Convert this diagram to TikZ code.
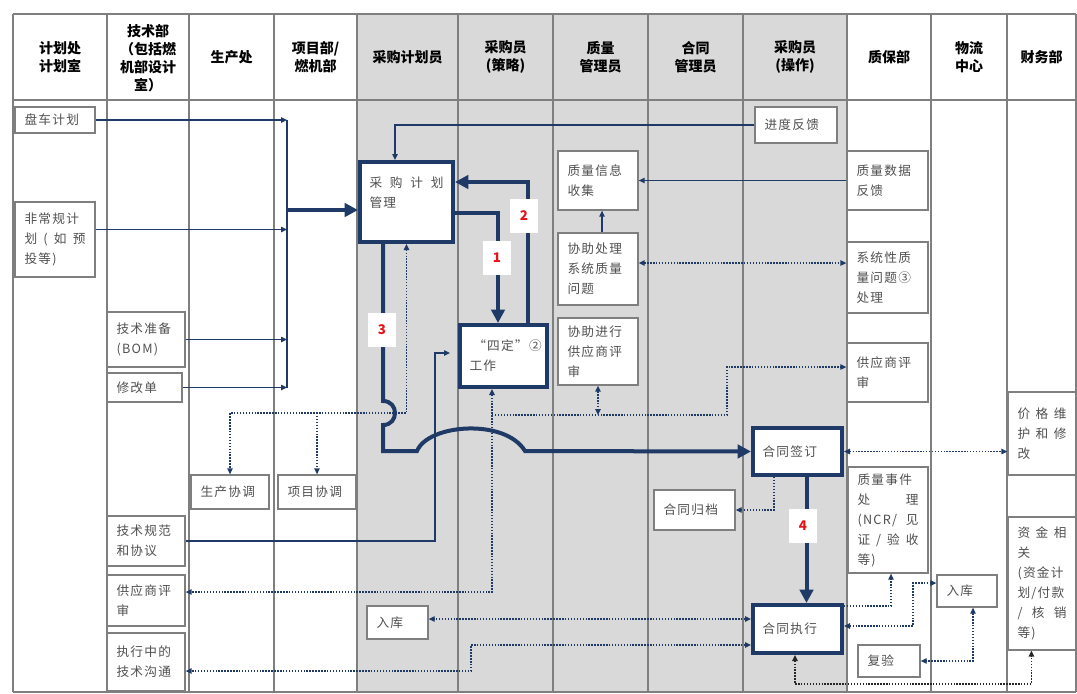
\documentclass[tikz,border=0pt]{standalone}
\usepackage{fontspec}
\setmainfont{Noto Sans CJK SC}
\newfontfamily\bxf[LetterSpace=10]{Noto Sans CJK SC}
\usetikzlibrary{arrows.meta,calc}
\definecolor{navy}{HTML}{1F3A66}
\definecolor{colgrey}{HTML}{D9D9D9}
\definecolor{lgrey}{HTML}{7F7F7F}
\definecolor{txtgrey}{HTML}{505050}
\definecolor{numred}{HTML}{E5141B}
\newcommand\sprd[1]{\makebox[\linewidth][s]{#1}}
\newcommand\mybox[7][]{%
 \pgfmathsetmacro\bxw{(#5-#3)*0.75}%
 \pgfmathsetmacro\bxh{(#6-#4)*0.75}%
 \pgfmathsetmacro\bxt{(#5-#3-19)*0.75}%
 \node[bxs,#1,minimum width=\bxw pt,minimum height=\bxh pt,text width=\bxt pt] (#2) at ({(#3+#5)/2},{(#4+#6)/2}) {#7};}
\tikzset{
 bxs/.style={draw=lgrey, line width=0.9pt, fill=white, inner xsep=6.75pt, inner ysep=2pt, align=left, font=\bxf\fontsize{9.5}{15}\selectfont, text=txtgrey},
 boxthick/.style={draw=navy, line width=3pt},
 ln/.style={draw=navy, line width=1pt},
 lnar/.style={ln, -{Triangle[length=4.5pt,width=4pt]}},
 thk/.style={draw=navy, line width=3pt, -{Triangle[length=10pt,width=10pt]}},
 dotl/.style={draw=navy, line width=1.1pt, dash pattern=on 1.1pt off 1.1pt},
 dar/.style={dotl, {Triangle[length=4.5pt,width=4pt]}-{Triangle[length=4.5pt,width=4pt]}},
 sar/.style={dotl, -{Triangle[length=4.5pt,width=4pt]}},
 hd/.style={font=\bfseries\fontsize{10.5}{13.5}\selectfont, align=center, inner sep=0pt},
 num/.style={fill=white, text=numred, font=\bfseries\fontsize{10}{12}\selectfont, minimum width=21pt, minimum height=25pt, inner sep=0pt},
 colline/.style={draw=lgrey, line width=1.2pt},
}
\begin{document}
\begin{tikzpicture}[x=0.75pt,y=-0.75pt]
\useasboundingbox (0,0) rectangle (1077,693);
\fill[colgrey] (357,14) rectangle (847,692);
\foreach \x in {13,107,189,274,357,458,553,648,743,847,931,1007,1076}
  \draw[colline] (\x,14) -- (\x,692);
\draw[colline] (13,14) -- (1076,14);
\draw[colline] (13,100) -- (1076,100);
\draw[colline] (13,692) -- (1076,692);
% headers
\node[hd] (h1) at (60,57) {计划处\\计划室};
\node[hd] (h2) at (148,58) {技术部\\（包括燃\\机部设计\\室）};
\node[hd] (h3) at (231.5,57) {生产处};
\node[hd] (h4) at (315.5,57) {项目部/\\燃机部};
\node[hd] (h5) at (407.5,57) {采购计划员};
\node[hd] (h6) at (505.5,57) {采购员\\(策略)};
\node[hd] (h7) at (600.5,57) {质量\\管理员};
\node[hd] (h8) at (695.5,57) {合同\\管理员};
\node[hd] (h9) at (795,57) {采购员\\(操作)};
\node[hd] (h10) at (889,57) {质保部};
\node[hd] (h11) at (969,57) {物流\\中心};
\node[hd] (h12) at (1041.5,57) {财务部};
% boxes
\mybox{pc}{15}{107}{95}{133}{盘车计划}
\mybox{fcg}{15}{202}{95}{277}{非常规计\\\sprd{划\hfill(\hfill 如\hfill 预}\\投等)}
\mybox{jszb}{107}{312}{185}{367}{技术准备\\(BOM)}
\mybox{xgd}{107}{373}{182}{402}{修改单}
\mybox[boxthick]{cgjh}{360}{162}{453}{242}{\sprd{采\hfill 购\hfill 计\hfill 划}\\管理\\\mbox{}}
\mybox{jdfk}{755}{107}{837}{143}{进度反馈}
\mybox{zlxx}{558}{151}{638}{210}{质量信息\\收集}
\mybox{zlsj}{847}{151}{928}{210}{质量数据\\反馈}
\mybox{xzcl}{558}{233}{638}{305}{协助处理\\系统质量\\问题}
\mybox{xtx}{847}{242}{928}{313}{系统性质\\量问题③\\处理}
\mybox{xzps}{558}{318}{638}{385}{协助进行\\供应商评\\审}
\mybox{gyps2}{847}{343}{928}{402}{供应商评\\审}
\mybox[boxthick]{sd}{460}{325}{547}{387}{\hspace*{0.3em}“四定”②\\工作}
\mybox{sctj}{191}{475}{269}{509}{生产协调}
\mybox{xmtj}{278}{475}{356}{509}{项目协调}
\mybox{jsgf}{107}{516}{185}{566}{技术规范\\和协议}
\mybox{gyps1}{107}{575}{185}{626}{供应商评\\审}
\mybox{zxgt}{107}{633}{185}{691}{执行中的\\技术沟通}
\mybox[boxthick]{htqd}{753}{428}{842}{475}{合同签订}
\mybox{htgd}{654}{490}{735}{530}{合同归档}
\mybox{jgwh}{1008}{392}{1076}{475}{\sprd{价\hfill 格\hfill 维}\\\sprd{护\hfill 和\hfill 修}\\改}
\mybox{zlsjcl}{848}{467}{928}{573}{质量事件\\\sprd{处\hfill 理}\\\sprd{(NCR/\hfill 见}\\\sprd{证\hfill /\hfill 验\hfill 收}\\等)}
\mybox{zjxg}{1008}{517}{1076}{650}{\sprd{资\hfill 金\hfill 相}\\关\\(资金计\\划/付款\\\sprd{/\hfill 核\hfill 销}\\等)}
\mybox{rk1}{367}{606}{428}{639}{入库}
\mybox[boxthick]{htzx}{753}{605}{842}{653}{合同执行}
\mybox{rk2}{937}{575}{997}{607}{入库}
\mybox{fy}{858}{645}{920}{677}{复验}
% helper coordinates
\coordinate (busM) at (287,210);
\coordinate (d1) at (0,413);
\coordinate (d2) at (0,592);
\coordinate (d3) at (0,415);
\coordinate (d4) at (0,367);
\coordinate (d5) at (727,0);
\coordinate (d6) at (471,671);
\coordinate (d7) at (0,684);
\coordinate (d8) at (913,0);
\coordinate (s1) at ($(sd.south)+(-11.5,0)$);
% thin solid connectors
\draw[ln] (pc.east -| busM) -- (xgd.east -| busM);
\draw[lnar] (pc.east) -- (pc.east -| busM);
\draw[lnar] ($(fcg.east)+(0,-10)$) coordinate (q2) -- (q2 -| busM);
\draw[lnar] (jszb.east) -- (jszb.east -| busM);
\draw[lnar] (xgd.east) -- (xgd.east -| busM);
\draw[lnar] (jdfk.west) -| ($(cgjh.north)+(-11.5,0)$);
\draw[lnar] (zlsj.west) -- (zlxx.east);
\draw[lnar] ($(xzcl.north)+(4,0)$) -- ($(zlxx.south)+(4,0)$);
\draw[lnar] (jsgf.east) -| ($(sd.west)+(-23,-3)$) -- ($(sd.west)+(-8,-3)$);
% dotted connectors
\draw[dar] ($(xzcl.east)+(0,-6)$) coordinate (q1) -- (q1 -| xtx.west);
\draw[dar] (cgjh.south) -- (cgjh.south |- d1) -| (sctj.north);
\draw[sar] (xmtj.north |- d1) -- (xmtj.north);
\draw[dar] (s1) -- (s1 |- d2) -- (gyps1.east |- d2);
\draw[sar] (s1 |- d3) -- (d5 |- d3) -- (d5 |- d4) -- (gyps2.west |- d4);
\draw[dar] (xzps.south) -- (xzps.south |- d3);
\draw[sar] ($(htqd.south)+(-23.5,0)$) |- (htgd.east);
\draw[dar] (htqd.east) -- (htqd.east -| jgwh.west);
\draw[dar] ($(htzx.west)+(0,-10)$) coordinate (q3) -- (q3 -| rk1.east);
\draw[dar] ($(htzx.west)+(0,16)$) coordinate (q4) -- (q4 -| d6) -- (d6) -- (d6 -| zxgt.east);
\draw[sar] ($(htzx.north east)+(0,3)$) -| ($(zlsjcl.south)+(3,0)$);
\draw[dar] ($(htzx.east)+(0,-3)$) coordinate (q5) -- (q5 -| d8) |- ($(rk2.west)+(0,-8)$);
\draw[dar] ($(rk2.south)+(6,0)$) |- (fy.east);
\draw[dar, draw=black!85] ($(htzx.south)+(-2.5,0)$) coordinate (q6) -- (q6 |- d7) -| ($(zjxg.south west)+(24,0)$);
% thick connectors
\draw[thk] (busM) -- (busM -| cgjh.west);
\draw[thk] ($(cgjh.east)+(0,11)$) -| ($(sd.north)+(-5.5,0)$);
\draw[thk] ($(sd.north)+(24.5,0)$) |- ($(cgjh.east)+(0,-20)$);
\draw[thk] ($(cgjh.south)+(-23.5,0)$) -- (383,401) .. controls (399,401) and (399,425) .. (383,425) -- (383,451) -- (417,451) .. controls (428,424) and (505,418) .. (525,451) -- (htqd.west);
\draw[thk] ($(htqd.south)+(9,0)$) -- ($(htzx.north)+(9,0)$);
% number labels
\node[num] (n1) at (497,258) {1};
\node[num] (n2) at (524,216) {2};
\node[num] (n3) at (382,330) {3};
\node[num] (n4) at (803,526) {4};
\end{tikzpicture}
\end{document}
